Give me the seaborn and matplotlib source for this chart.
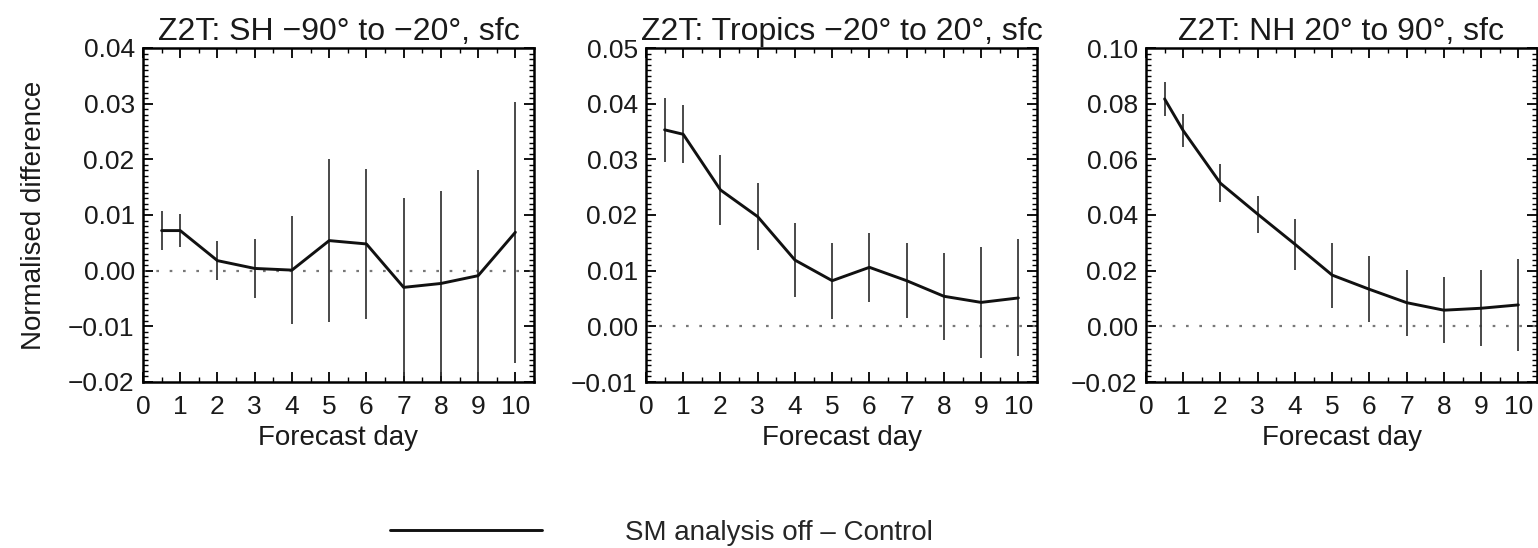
import numpy as np
import pandas as pd
import matplotlib
matplotlib.use("Agg")
import matplotlib.pyplot as plt
from matplotlib.ticker import MultipleLocator, AutoMinorLocator, FuncFormatter
import seaborn as sns

# ---- data ----
days = [0.5, 1, 2, 3, 4, 5, 6, 7, 8, 9, 10]

sh_mean = [0.0072, 0.0072, 0.0018, 0.0004, 0.0001, 0.0054, 0.0048, -0.0030, -0.0023, -0.0009, 0.0069]
sh_err = [0.0035, 0.0029, 0.0035, 0.0053, 0.0097, 0.0146, 0.0134, 0.0160, 0.0166, 0.0190, 0.0234]

tr_mean = [0.0353, 0.0345, 0.0245, 0.0197, 0.0119, 0.0082, 0.0106, 0.0082, 0.0054, 0.0043, 0.0051]
tr_err = [0.0058, 0.0052, 0.0063, 0.0060, 0.0066, 0.0068, 0.0062, 0.0067, 0.0078, 0.0100, 0.0105]

nh_mean = [0.0817, 0.0703, 0.0514, 0.0403, 0.0295, 0.0184, 0.0133, 0.0085, 0.0058, 0.0065, 0.0077]
nh_err = [0.0060, 0.0060, 0.0069, 0.0066, 0.0092, 0.0117, 0.0118, 0.0119, 0.0118, 0.0136, 0.0164]

titles = ["Z2T: SH \u221290\u00b0 to \u221220\u00b0, sfc",
          "Z2T: Tropics \u221220\u00b0 to 20\u00b0, sfc",
          "Z2T: NH 20\u00b0 to 90\u00b0, sfc"]
ylims = [(-0.02, 0.04), (-0.01, 0.05), (-0.02, 0.10)]
ysteps = [0.01, 0.01, 0.02]
series_label = "SM analysis off \u2013 Control"

# ---- style ----
sns.set_theme(style="ticks")
plt.rcParams["font.family"] = ["Liberation Sans", "DejaVu Sans"]
plt.rcParams["axes.unicode_minus"] = True

W, H = 1538, 548
fig = plt.figure(figsize=(W / 100, H / 100), dpi=100)

lefts = [143, 646, 1146]
ax_w = 391
ax_top, ax_bot = 48, 382

means = [sh_mean, tr_mean, nh_mean]
errs = [sh_err, tr_err, nh_err]
fs_tick = 19
fs_label = 20
fs_title = 23
txt = "#1a1a1a"

line_handle = None
for i in range(3):
    ax = fig.add_axes([lefts[i] / W, 1 - ax_bot / H, ax_w / W, (ax_bot - ax_top) / H])
    df = pd.DataFrame({"day": days, "diff": means[i]})
    ax.axhline(0, color="#777777", lw=1.6, ls=(0, (1.2, 4.8)), zorder=1)
    ax.errorbar(days, means[i], yerr=errs[i], fmt="none", ecolor="#3a3a3a",
                elinewidth=1.3, capsize=0, zorder=2)
    sns.lineplot(data=df, x="day", y="diff", ax=ax, color="#111111", lw=2.1,
                 zorder=3, label=series_label, legend=False)
    if line_handle is None:
        line_handle = ax.lines[-1]
    ax.set_xlim(0, 10.5)
    ax.set_ylim(*ylims[i])
    ax.xaxis.set_major_locator(MultipleLocator(1))
    ax.xaxis.set_minor_locator(MultipleLocator(0.5))
    ax.yaxis.set_major_locator(MultipleLocator(ysteps[i]))
    ax.yaxis.set_minor_locator(AutoMinorLocator(10))
    ax.yaxis.set_major_formatter(FuncFormatter(lambda v, p: f"{v:.2f}".replace("-", "\u2212")))
    ax.tick_params(which="both", direction="in", top=True, right=True,
                   labelsize=fs_tick, color="black", labelcolor=txt)
    ax.tick_params(axis="x", which="major", length=7, width=1.3, pad=9)
    ax.tick_params(axis="y", which="major", length=7, width=1.3, pad=6)
    ax.tick_params(which="minor", length=3.5, width=1.0)
    for s in ax.spines.values():
        s.set_linewidth(1.8)
        s.set_color("black")
    ax.set_title(titles[i], fontsize=fs_title, pad=6, color=txt)
    ax.set_xlabel("Forecast day", fontsize=fs_label, labelpad=5, color=txt)
    if i == 0:
        ax.set_ylabel("Normalised difference", fontsize=fs_label, labelpad=15, color=txt)
    else:
        ax.set_ylabel("")

fig.legend(handles=[line_handle], labels=[series_label], loc="center left",
           bbox_to_anchor=(390 / W, 1 - 533 / H), frameon=False, fontsize=fs_label,
           handlelength=152 / 27.8, handletextpad=83 / 27.8, borderpad=0, borderaxespad=0)

fig.savefig("out.png", dpi=100, facecolor="white")
